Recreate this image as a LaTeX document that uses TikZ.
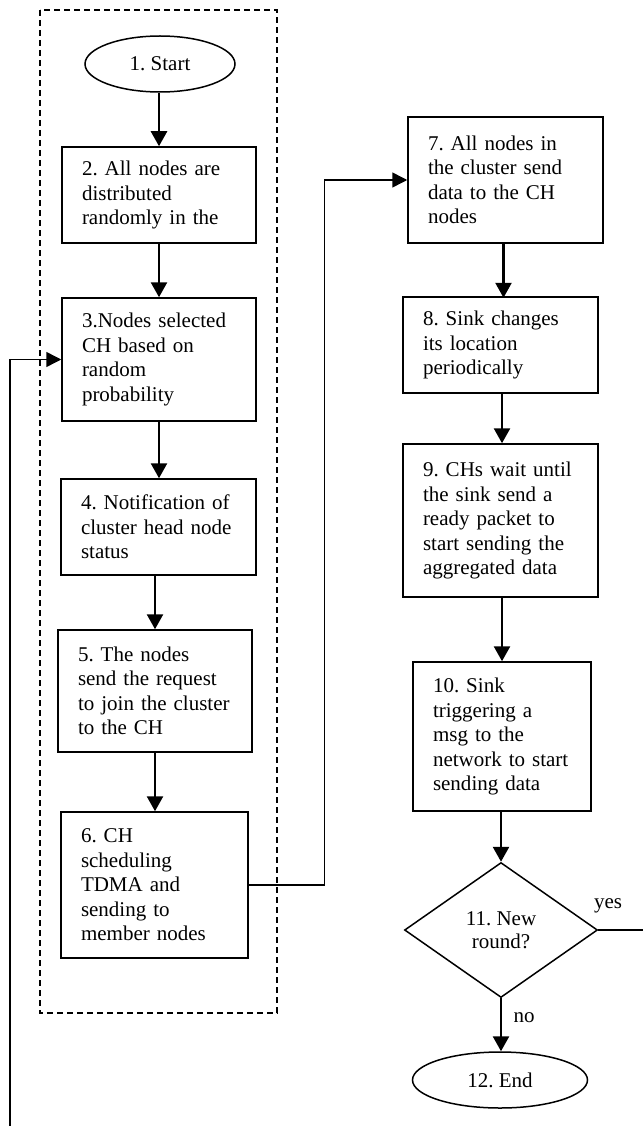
\documentclass[tikz,border=0pt]{standalone}
\usepackage{fontspec}
\setmainfont{Liberation Serif}
\usetikzlibrary{arrows.meta,shapes.geometric}
\frenchspacing

\tikzset{
  every node/.style={font=\fontsize{21}{24.5}\selectfont},
  stepbox/.style={draw, rectangle, line width=1.5pt, align=left,
                  inner xsep=20pt, inner ysep=0pt},
  termbox/.style={draw, ellipse, line width=1.5pt, inner sep=0pt},
  decbox/.style={draw, diamond, line width=1.5pt, inner sep=0pt, align=center,
                 font=\fontsize{21}{23}\selectfont},
  flow/.style={line width=2.6pt, -{Triangle[length=15pt,width=16pt]}},
  backline/.style={line width=1.5pt},
  backarrow/.style={line width=1.5pt, -{Triangle[length=15pt,width=15pt]}},
  group/.style={line width=1.3pt, dash pattern=on 6pt off 4pt},
}

\begin{document}
\begin{tikzpicture}[x=1pt,y=-1pt]
\useasboundingbox (0,0) rectangle (643,1126);

% dashed group around the set-up phase
\draw[group] (40,10) rectangle (277,1013);

% left column
\node[termbox, minimum width=150pt, minimum height=56pt] (start) at (160,64) {1. Start};
\node[stepbox, minimum height=96pt, text width=154pt] (n2) at (159,195)
  {2. All nodes are\\distributed\\randomly in the};
\node[stepbox, minimum height=123pt, text width=154pt] (n3) at (159,359.5)
  {3.Nodes selected\\CH based on\\random\\probability};
\node[stepbox, minimum height=96pt, text width=155pt] (n4) at (158.5,527)
  {4. Notification of\\cluster head node\\status};
\node[stepbox, minimum height=122pt, text width=154pt] (n5) at (155,691)
  {5. The nodes\\send the request\\to join the cluster\\to the CH};
\node[stepbox, minimum height=146pt, text width=147pt] (n6) at (154.5,885)
  {6. CH\\scheduling\\TDMA and\\sending to\\member nodes};

% right column
\node[stepbox, minimum height=126pt, text width=155pt] (n7) at (505.5,180)
  {7. All nodes in\\the cluster send\\data to the CH\\nodes};
\node[stepbox, minimum height=96pt, text width=155pt] (n8) at (500.5,345)
  {8. Sink changes\\its location\\periodically};
\node[stepbox, minimum height=153pt, text width=155pt] (n9) at (500.5,520.5)
  {9. CHs wait until\\the sink send a\\ready packet to\\start sending the\\aggregated data};
\node[stepbox, minimum height=149pt, text width=138pt] (n10) at (502,736.5)
  {10. Sink\\triggering a\\msg to the\\network to start\\sending data};
\node[decbox, minimum width=193pt, minimum height=135pt] (dec) at (501,930)
  {11. New\\round?};
\node[termbox, minimum width=175pt, minimum height=56pt] (end) at (500,1080) {12. End};

\node (yeslbl) at (608,906) {yes};
\node (nolbl) at (524,1018) {no};

% loop ends running off the page
\coordinate (yesend) at (643,930);
\coordinate (loopfoot) at (10,1126);

% main flow
\draw[flow] (start.south -| n2.north) -- (n2.north);
\draw[flow] (n2.south) -- (n3.north);
\draw[flow] (n3.south) -- (n3.south |- n4.north);
\draw[flow] (n4.south -| n5.north) -- (n5.north);
\draw[flow] (n5.south) -- (n5.south |- n6.north);
\draw[backarrow] (n6.east) -- ++(75.5,0) |- (n7.west);
\draw[flow] (n7.south -| n8.north) ++(3,0) -- ++(0,54);
\draw[flow] (n8.south -| 502,0) -- (n9.north -| 502,0);
\draw[flow] (n9.south -| 502,0) -- (n10.north -| 502,0);
\draw[flow] (n10.south -| dec.north) -- (dec.north);
\draw[flow] (dec.south) -- (end.north -| dec.south);

% back loop
\draw[backline] (dec.east) -- (yesend);
\draw[backarrow] (loopfoot) |- (n3.west);
\end{tikzpicture}
\end{document}
